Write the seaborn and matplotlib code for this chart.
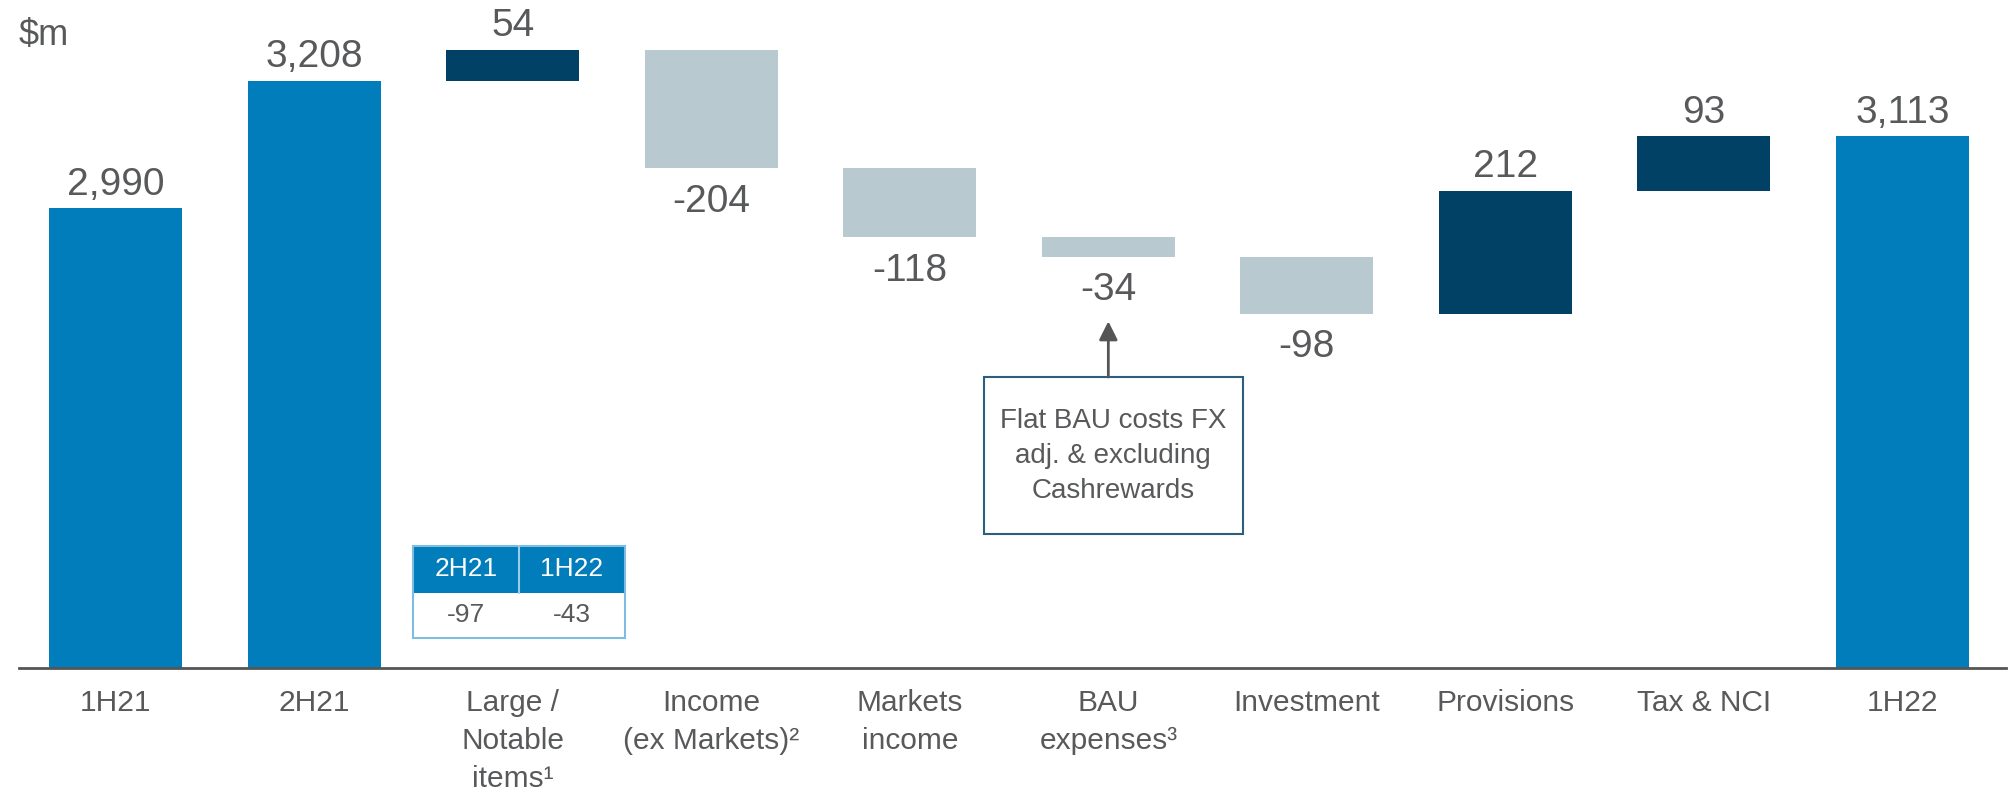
import numpy as np
import pandas as pd
import matplotlib
matplotlib.use("Agg")
import matplotlib.pyplot as plt
import matplotlib.transforms as mtransforms
from matplotlib.patches import Rectangle
import seaborn as sns

# data ($m)
categories = ["1H21", "2H21", "Large /\nNotable\nitems¹", "Income\n(ex Markets)²",
              "Markets\nincome", "BAU\nexpenses³", "Investment", "Provisions",
              "Tax & NCI", "1H22"]
values = [2990, 3208, 54, -204, -118, -34, -98, 212, 93, 3113]
is_total = [True, True, False, False, False, False, False, False, False, True]

table_cols = ["2H21", "1H22"]
table_vals = ["-97", "-43"]
note_text = "Flat BAU costs FX\nadj. & excluding\nCashrewards"

BLUE = "#007DBA"
NAVY = "#004165"
LIGHT = "#B9C9D0"
GREY = "#58595B"

# waterfall bottoms / heights
bottoms, heights, colors = [], [], []
level = 0
for v, tot in zip(values, is_total):
    if tot:
        bottoms.append(0)
        heights.append(v)
        level = v
        colors.append(BLUE)
    else:
        bottoms.append(level if v >= 0 else level + v)
        heights.append(abs(v))
        level += v
        colors.append(NAVY if v >= 0 else LIGHT)

df = pd.DataFrame({"cat": categories, "height": heights, "bottom": bottoms})

sns.set_theme(style="white")
plt.rcParams['font.family'] = ['Liberation Sans', 'DejaVu Sans']

fig = plt.figure(figsize=(20.13, 7.94), dpi=100)
ax = fig.add_axes([0.0094, 0.1587, 0.987, 0.8413])

sns.barplot(data=df, x="cat", y="height", bottom=df["bottom"].to_numpy(),
            color=BLUE, saturation=1, width=0.67, errorbar=None, ax=ax)
for p, c in zip(ax.patches, colors):
    p.set_facecolor(c)
    p.set_edgecolor("none")

ax.set_xlim(-0.487, 9.52)
ax.set_ylim(2201, 3347)

# value labels
for i, v in enumerate(values):
    top = bottoms[i] + heights[i]
    if v >= 0:
        ax.annotate(f"{v:,}", (i, top), xytext=(0, 4), textcoords="offset points",
                    ha="center", va="bottom", fontsize=28, color=GREY)
    else:
        ax.annotate(f"{v:,}", (i, bottoms[i]), xytext=(0, -11), textcoords="offset points",
                    ha="center", va="top", fontsize=28, color=GREY)

ax.set_xlabel("")
ax.set_ylabel("")
ax.set_yticks([])
ax.tick_params(axis="x", length=0, pad=15, labelsize=21.5, labelcolor=GREY)
for lbl in ax.get_xticklabels():
    lbl.set_linespacing(1.45)
sns.despine(ax=ax, left=True)
ax.spines["bottom"].set_color("#555555")
ax.spines["bottom"].set_linewidth(2)

# small table under Large / Notable items
tx0, ty0, tw, th = 0.1983, 0.0449, 0.1067, 0.1377
ax.add_patch(Rectangle((tx0, ty0 + th * 0.49), tw, th * 0.51, transform=ax.transAxes,
                       facecolor=BLUE, edgecolor="none", zorder=3))
ax.add_patch(Rectangle((tx0, ty0), tw, th, transform=ax.transAxes,
                       facecolor="none", edgecolor="#7FBCE0", lw=1.5, zorder=4))
ax.plot([tx0 + tw / 2, tx0 + tw / 2], [ty0 + th * 0.49, ty0 + th], transform=ax.transAxes,
        color="#9CCCE8", lw=1.5, zorder=4)
for j in range(2):
    cx = tx0 + tw * (0.25 + 0.5 * j)
    ax.text(cx, ty0 + th * 0.745, table_cols[j], transform=ax.transAxes, ha="center",
            va="center", fontsize=19, color="white", zorder=5)
    ax.text(cx, ty0 + th * 0.245, table_vals[j], transform=ax.transAxes, ha="center",
            va="center", fontsize=19, color=GREY, zorder=5)

# note box with arrow pointing at BAU expenses
bx0, by0, bw, bh = 0.4857, 0.2006, 0.1303, 0.235
ax.add_patch(Rectangle((bx0, by0), bw, bh, transform=ax.transAxes,
                       facecolor="white", edgecolor="#2E5E7E", lw=1.5, zorder=3))
ax.text(bx0 + bw / 2, by0 + bh / 2, note_text, transform=ax.transAxes, ha="center",
        va="center", fontsize=20, color=GREY, linespacing=1.45, zorder=4)
trans = mtransforms.blended_transform_factory(ax.transData, ax.transAxes)
ax.annotate("", xy=(5, 0.519), xycoords=trans, xytext=(5, by0 + bh), textcoords=trans,
            arrowprops=dict(arrowstyle="-|>", color="#555555", lw=2, mutation_scale=28,
                            shrinkA=0, shrinkB=0))

fig.text(0.0094, 1 - 18 / 794, "$m", ha="left", va="top", fontsize=26, color=GREY)

fig.savefig("out.png", dpi=100)
